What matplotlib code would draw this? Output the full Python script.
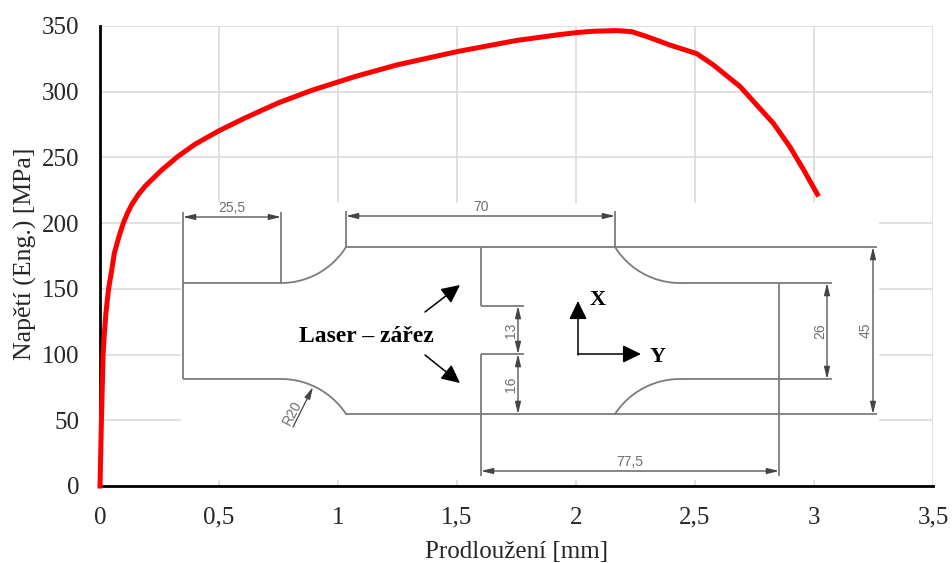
import numpy as np
import matplotlib
matplotlib.use("Agg")
import matplotlib.pyplot as plt

plt.rcParams['font.family'] = ['Liberation Serif', 'DejaVu Serif']

# curve
elongation = [0, 0.003, 0.006, 0.013, 0.018, 0.025, 0.036, 0.049, 0.06, 0.08, 0.098, 0.115, 0.133, 0.16, 0.189,
              0.259, 0.329, 0.399, 0.497, 0.609, 0.749, 0.889, 1.071, 1.25, 1.5, 1.75, 1.933, 2.003, 2.073,
              2.171, 2.234, 2.297, 2.395, 2.507, 2.577, 2.689, 2.759, 2.829, 2.899, 2.955, 3.014]
stress = [0, 25, 50, 100, 115, 132, 150, 164, 177, 190, 200, 207.5, 214, 221.5, 228,
          240.4, 251, 260, 270, 280, 291.5, 301, 311.5, 320.5, 330.5, 339, 343.5, 345, 346,
          346.5, 345.7, 342, 335.5, 329, 320.4, 304, 290, 276, 258, 241, 222]

x_ticks = [0, 0.5, 1, 1.5, 2, 2.5, 3, 3.5]
x_tick_labels = ['0', '0,5', '1', '1,5', '2', '2,5', '3', '3,5']
y_ticks = [0, 50, 100, 150, 200, 250, 300, 350]

DIM = '#6e6e6e'
LINE = '#7c7c7c'

fig = plt.figure(figsize=(9.52, 5.63), dpi=100)
W, H = 952, 563
ax = fig.add_axes([100 / W, 1 - 486 / H, (933 - 100) / W, (486 - 26) / H])
ax.set_xlim(0, 3.5)
ax.set_ylim(0, 350)
ax.set_xticks(x_ticks)
ax.set_xticklabels(x_tick_labels)
ax.set_yticks(y_ticks)
ax.grid(True, color='#dcdcdc', linewidth=1.2)
ax.set_axisbelow(True)
ax.tick_params(length=0, labelsize=18, colors='#262626')
ax.tick_params(axis='x', pad=15)
ax.tick_params(axis='y', pad=15)
for side in ['top', 'right']:
    ax.spines[side].set_visible(False)
for side in ['left', 'bottom']:
    ax.spines[side].set_linewidth(2)
ax.set_xlabel('Prodloužení [mm]', fontsize=18, color='#262626', labelpad=9)
ax.set_ylabel('Napětí (Eng.) [MPa]', fontsize=18.5, color='#262626', labelpad=3, y=0.505)


# overlay for the specimen drawing, in pixels of the picture
ov = fig.add_axes([0, 0, 1, 1], facecolor='none')
ov.set_xlim(0, W)
ov.set_ylim(H, 0)
ov.axis('off')
ov.add_patch(plt.Rectangle((181, 203), 697, 276, color='white', zorder=1))


def seg(x0, y0, x1, y1, color=LINE, lw=1.3):
    ov.plot([x0, x1], [y0, y1], color=color, lw=lw, solid_capstyle='butt', zorder=2)


def fillet(x0, y0, x1, y1):
    # arc starting tangent to the waist at (x0, y0), ending on the shoulder at (x1, y1)
    dx, dy = abs(x1 - x0), y1 - y0
    r = (dx ** 2 + dy ** 2) / (2 * abs(dy))
    cy = y0 + np.sign(dy) * r
    xs = np.linspace(x0, x1, 40)
    ys = cy - np.sign(dy) * np.sqrt(r ** 2 - (xs - x0) ** 2)
    ov.plot(xs, ys, color=LINE, lw=1.3, zorder=2)


def dim_h(x0, x1, y, label):
    ov.annotate('', (x0, y), (x1, y), arrowprops=dict(arrowstyle='<|-|>,head_length=0.9,head_width=0.22',
                                                      color='#444444', lw=0.9,
                                                      mutation_scale=8, shrinkA=0, shrinkB=0), zorder=3)
    ov.text((x0 + x1) / 2, y - 2, label, family='Liberation Sans', fontsize=10, color=DIM,
            ha='center', va='bottom', zorder=3)


def dim_v(x, y0, y1, label):
    ov.annotate('', (x, y0), (x, y1), arrowprops=dict(arrowstyle='<|-|>,head_length=0.9,head_width=0.22',
                                                      color='#444444', lw=0.9,
                                                      mutation_scale=8, shrinkA=0, shrinkB=0), zorder=3)
    ov.text(x - 7, (y0 + y1) / 2, label, family='Liberation Sans', fontsize=10, color=DIM,
            rotation=90, ha='center', va='center', zorder=3)


# outline
seg(183, 283, 183, 379)
seg(183, 283, 281, 283)
seg(183, 379, 281, 379)
seg(346, 247, 877, 247)
seg(346, 414, 877, 414)
seg(680, 283, 832, 283)
seg(680, 379, 832, 379)
fillet(281, 283, 346, 247)
fillet(281, 379, 346, 414)
fillet(680, 283, 615, 247)
fillet(680, 379, 615, 414)

# notches and extension lines
seg(481, 247, 481, 306)
seg(481, 306, 524, 306)
seg(481, 354, 524, 354)
seg(481, 354, 481, 476)
seg(779, 283, 779, 476)
seg(183, 212, 183, 283)
seg(281, 212, 281, 283)
seg(346, 211, 346, 247)
seg(615, 211, 615, 247)

dim_h(183, 281, 217, '25,5')
dim_h(346, 615, 216, '70')
dim_h(481, 779, 471, '77,5')
dim_v(518, 306, 354, '13')
dim_v(518, 354, 414, '16')
dim_v(827, 283, 379, '26')
dim_v(873, 247, 414, '45')

# R20 leader
ov.annotate('', (313, 387), (293, 427), arrowprops=dict(arrowstyle='-|>,head_length=0.9,head_width=0.22',
                                                        color='#444444', lw=0.9,
                                                        mutation_scale=8, shrinkA=0, shrinkB=0), zorder=3)
ov.text(292, 413, 'R20', family='Liberation Sans', fontsize=10, color=DIM, rotation=62,
        ha='center', va='center', zorder=3)

# black arrows and labels
for start, end in [((425, 312), (460, 285)), ((425, 355), (460, 383)),
                   ((578, 355), (578, 301)), ((578, 354), (641, 354))]:
    ov.annotate('', end, start, arrowprops=dict(arrowstyle='-|>,head_length=0.7,head_width=0.34', color='black', lw=1.1,
                                                mutation_scale=16, shrinkA=0, shrinkB=0), zorder=4)
ov.text(366, 337, 'Laser – zářez', fontsize=17, fontweight='bold', ha='center', va='center', zorder=4)
ov.text(598, 300, 'X', fontsize=16, fontweight='bold', ha='center', va='center', zorder=4)
ov.text(658, 357, 'Y', fontsize=16, fontweight='bold', ha='center', va='center', zorder=4)

# curve goes on a top layer above the white patch
top = fig.add_axes(ax.get_position(), facecolor='none', sharex=ax, sharey=ax)
top.axis('off')
top.plot(elongation, stress, color='#ff0000', lw=3.6, clip_on=False, solid_joinstyle='round')

fig.savefig('out.png', dpi=100)
